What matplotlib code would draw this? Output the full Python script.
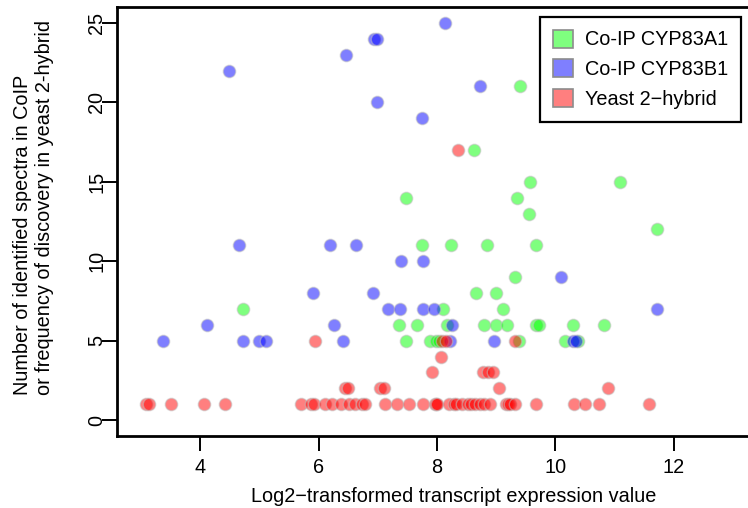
import matplotlib
matplotlib.use('Agg')
import matplotlib.pyplot as plt
from matplotlib.patches import Patch

# Co-IP CYP83A1 (green)
a1_x = [9.40, 8.62, 9.57, 11.09, 7.47, 9.36, 9.55, 11.71, 7.75, 8.24, 8.84, 9.68,
        9.31, 8.66, 9.00, 4.73, 8.10, 9.11, 7.36, 7.66, 8.17, 8.80, 8.99, 9.18,
        9.68, 9.72, 10.30, 10.82, 7.48, 7.88, 7.98, 8.04, 9.38, 10.16, 10.38]
a1_y = [21, 17, 15, 15, 14, 14, 13, 12, 11, 11, 11, 11,
        9, 8, 8, 7, 7, 7, 6, 6, 6, 6, 6, 6,
        6, 6, 6, 6, 5, 5, 5, 5, 5, 5, 5]

# Co-IP CYP83B1 (blue)
b1_x = [4.48, 6.47, 8.13, 6.93, 6.98, 8.73, 6.98, 7.75, 4.65, 6.19, 6.63, 7.39,
        7.77, 10.10, 5.90, 6.92, 7.17, 7.38, 7.77, 7.95, 11.71, 4.11, 6.26, 8.25,
        3.37, 4.72, 5.00, 5.11, 6.42, 8.22, 8.97, 10.30, 10.35]
b1_y = [22, 23, 25, 24, 24, 21, 20, 19, 11, 11, 11, 10,
        10, 9, 8, 8, 7, 7, 7, 7, 7, 6, 6, 6,
        5, 5, 5, 5, 5, 5, 5, 5, 5]

# Yeast 2-hybrid (red)
y2h_x = [8.35, 8.07, 7.91, 8.78, 8.86, 8.95, 6.44, 6.50, 7.03, 7.10, 9.04, 10.89,
         5.94, 8.09, 8.15, 9.31,
         3.09, 3.14, 3.51, 4.06, 4.42, 5.70, 5.88, 5.93, 6.10, 6.23, 6.38, 6.52,
         6.61, 6.74, 6.78, 7.13, 7.33, 7.53, 7.77, 7.96, 7.98, 8.00, 8.21, 8.28,
         8.32, 8.43, 8.53, 8.57, 8.64, 8.72, 8.80, 8.89, 9.16, 9.20, 9.24, 9.31,
         9.68, 10.31, 10.50, 10.74, 11.58]
y2h_y = [17, 4, 3, 3, 3, 3, 2, 2, 2, 2, 2, 2,
         5, 5, 5, 5,
         1, 1, 1, 1, 1, 1, 1, 1, 1, 1, 1, 1,
         1, 1, 1, 1, 1, 1, 1, 1, 1, 1, 1, 1,
         1, 1, 1, 1, 1, 1, 1, 1, 1, 1, 1, 1,
         1, 1, 1, 1, 1]

series_names = ['Co-IP CYP83A1', 'Co-IP CYP83B1', 'Yeast 2\u2212hybrid']
series_colors = [(0, 1, 0), (0, 0, 1), (1, 0, 0)]

fs = 14.3
plt.rcParams['font.family'] = ['Liberation Sans', 'DejaVu Sans']
plt.rcParams['font.size'] = fs

fig = plt.figure(figsize=(7.48, 5.08), dpi=100)
# plot region runs past the right edge of the picture, as in the reference
ax = fig.add_axes([117.3 / 748, 72 / 508, 673.7 / 748, 429 / 508])

for (xs, ys), c in zip([(a1_x, a1_y), (b1_x, b1_y), (y2h_x, y2h_y)], series_colors):
    ax.scatter(xs, ys, s=80, facecolor=(*c, 0.5), edgecolor=(0.75, 0.75, 0.75, 0.5),
               linewidth=1.0, zorder=3)

ax.set_xlim(2.6, 13.98)
ax.set_ylim(-1, 26)
ax.set_xticks([4, 6, 8, 10, 12])
ax.set_yticks([0, 5, 10, 15, 20, 25])
ax.tick_params(axis='both', direction='out', length=11, width=1.4, labelsize=fs)
ax.tick_params(axis='x', pad=5)
ax.tick_params(axis='y', pad=-3)
for lab in ax.get_yticklabels():
    lab.set_rotation(90)
    lab.set_va('center')
for sp in ax.spines.values():
    sp.set_linewidth(2.0)

ax.set_xlabel('Log2\u2212transformed transcript expression value', labelpad=7)
fig.text(33.5 / 748, 1 - 208 / 508,
         'Number of identified spectra in CoIP\nor frequency of discovery in yeast 2-hybrid',
         rotation=90, ha='center', va='center', multialignment='left', linespacing=1.25)

handles = [Patch(facecolor=(*c, 0.5), edgecolor=(0.55, 0.55, 0.55), linewidth=1.2)
           for c in series_colors]
leg = ax.legend(handles, series_names, loc='upper right',
                bbox_to_anchor=((741 - 117.3) / 673.7, 0.977),
                borderaxespad=0, fancybox=False, framealpha=1, edgecolor='black',
                handlelength=1.0, handleheight=1.0, handletextpad=0.6,
                labelspacing=0.5, borderpad=0.65, fontsize=fs)
leg.get_frame().set_linewidth(1.6)

fig.savefig('out.png', dpi=100)
